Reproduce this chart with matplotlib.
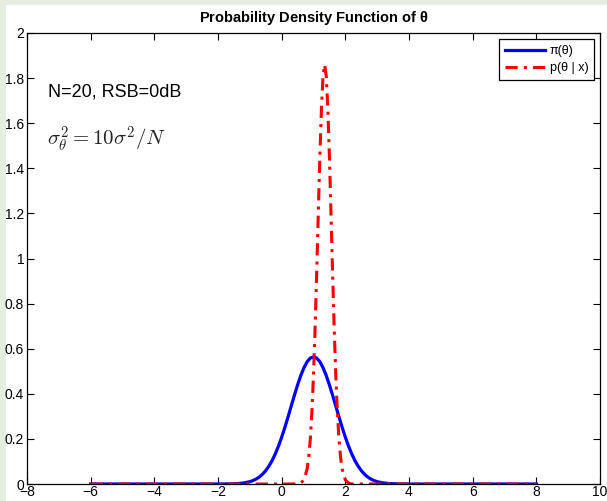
import matplotlib
matplotlib.use("Agg")
import matplotlib.pyplot as plt
from matplotlib.patches import Rectangle

plt.rcParams['font.family'] = ['Liberation Sans', 'DejaVu Sans']
plt.rcParams['mathtext.fontset'] = 'cm'

# prior pi(theta)
prior_x = [-6, -2, -1.6, -1.4, -1.2, -1.0, -0.9, -0.8, -0.7, -0.6, -0.5, -0.4, -0.3, -0.2,
           -0.1, 0.0, 0.1, 0.2, 0.3, 0.4, 0.5, 0.6, 0.7, 0.8, 0.9, 1.0, 1.1, 1.2, 1.3, 1.4,
           1.5, 1.6, 1.7, 1.8, 1.9, 2.0, 2.1, 2.2, 2.3, 2.4, 2.5, 2.6, 2.7, 2.8, 2.9, 3.0,
           3.2, 3.4, 3.6, 4, 8]
prior_y = [0, 0, 0.0007, 0.0018, 0.0045, 0.0103, 0.0153, 0.0221, 0.0314, 0.0436, 0.0595,
           0.0795, 0.1041, 0.1337, 0.1682, 0.2076, 0.2510, 0.2975, 0.3456, 0.3936, 0.4394,
           0.4808, 0.5156, 0.5421, 0.5586, 0.5642, 0.5586, 0.5421, 0.5156, 0.4808, 0.4394,
           0.3936, 0.3456, 0.2975, 0.2510, 0.2076, 0.1682, 0.1337, 0.1041, 0.0795, 0.0595,
           0.0436, 0.0314, 0.0221, 0.0153, 0.0103, 0.0045, 0.0018, 0.0007, 0, 0]

# posterior p(theta | x)
post_x = [-6, 0.5, 0.6, 0.7, 0.8, 0.85, 0.9, 0.95, 1.0, 1.05, 1.1, 1.15, 1.2, 1.25, 1.3,
          1.35, 1.4, 1.45, 1.5, 1.55, 1.6, 1.65, 1.7, 1.75, 1.8, 1.85, 1.9, 2.0, 2.1,
          2.2, 8]
post_y = [0, 0, 0.004, 0.018, 0.067, 0.119, 0.200, 0.320, 0.483, 0.691, 0.935, 1.198,
          1.452, 1.666, 1.810, 1.86, 1.810, 1.666, 1.452, 1.198, 0.935, 0.691, 0.483,
          0.320, 0.200, 0.119, 0.067, 0.018, 0.004, 0, 0]

xticks = list(range(-8, 11, 2))
yticks = [0, 0.2, 0.4, 0.6, 0.8, 1, 1.2, 1.4, 1.6, 1.8, 2]
ytick_labels = ['0', '0.2', '0.4', '0.6', '0.8', '1', '1.2', '1.4', '1.6', '1.8', '2']

fig = plt.figure(figsize=(6.07, 5.01), dpi=100)
fig.patch.set_facecolor('white')
green = '#e4efe0'
fig.patches.append(Rectangle((0, 0), 6 / 607, 1, transform=fig.transFigure,
                             facecolor=green, edgecolor='none', zorder=-10))
fig.patches.append(Rectangle((0, 1 - 5 / 501), 1, 5 / 501, transform=fig.transFigure,
                             facecolor=green, edgecolor='none', zorder=-10))

ax = fig.add_axes([27 / 607, 17 / 501, 573 / 607, 451 / 501])
ax.plot(prior_x, prior_y, color='b', lw=2.3, label='π(θ)')
ax.plot(post_x, post_y, color='r', lw=2.2, linestyle=(0, (4, 2, 1, 2)),
        label='p(θ | x)')

ax.set_xlim(-8, 10)
ax.set_ylim(0, 2)
ax.set_xticks(xticks)
ax.set_yticks(yticks)
ax.set_yticklabels(ytick_labels)
ax.tick_params(direction='in', top=True, right=True, length=5, width=0.8,
               labelsize=10, pad=2)
ax.tick_params(axis='x', pad=1)
for s in ax.spines.values():
    s.set_linewidth(0.9)

# title: bold words, regular theta
ax.set_title('Probability Density Function of $\\mathregular{θ}$', fontsize=10.5,
             fontweight='bold', pad=8)

ax.text(0.037, 0.869, 'N=20, RSB=0dB', transform=ax.transAxes, fontsize=13, va='center')
ax.text(0.035, 0.765, r'$\sigma_\theta^2 = 10\sigma^2/N$', transform=ax.transAxes,
        fontsize=15, va='center', color='#222222')

leg = ax.legend(loc='upper right', fontsize=9, handlelength=3.2, handletextpad=0.4,
                borderaxespad=0.5, borderpad=0.45, labelspacing=0.4, fancybox=False,
                edgecolor='black', framealpha=1)
leg.get_frame().set_linewidth(0.9)

fig.savefig('out.png', dpi=100)
